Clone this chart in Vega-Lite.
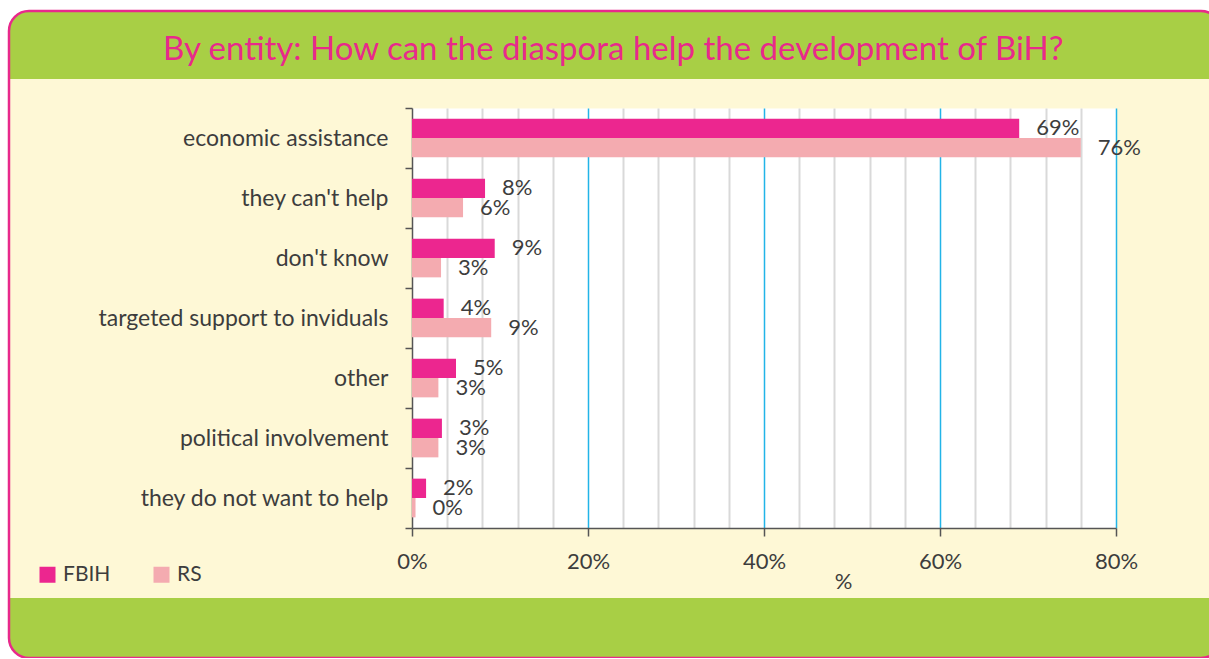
{
  "$schema": "https://vega.github.io/schema/vega-lite/v6.json",
  "width": 1212,
  "height": 647,
  "padding": {"left": 9, "top": 0, "right": 0, "bottom": 0},
  "background": "white",
  "view": {
    "fill": {"gradient": "linear", "x1": 0, "y1": 0, "x2": 0, "y2": 1, "stops": [
      {"offset": 0, "color": "#a8cf45"},
      {"offset": 0.105, "color": "#a8cf45"},
      {"offset": 0.105, "color": "#fef8d6"},
      {"offset": 0.907, "color": "#fef8d6"},
      {"offset": 0.907, "color": "#a8cf45"},
      {"offset": 1, "color": "#a8cf45"}
    ]},
    "stroke": "#e8298b",
    "strokeWidth": 2.5,
    "cornerRadius": 20
  },
  "title": {
    "text": "By entity: How can the diaspora help the development of BiH?",
    "color": "#e8298b",
    "font": "Lato",
    "fontSize": 33,
    "fontWeight": "normal",
    "anchor": "start",
    "frame": "group",
    "offset": -67,
    "dx": 154
  },
  "data": {"values": [
    {"cat": "economic assistance", "grp": "FBIH", "val": 0.69},
    {"cat": "economic assistance", "grp": "RS", "val": 0.76},
    {"cat": "they can't help", "grp": "FBIH", "val": 0.083},
    {"cat": "they can't help", "grp": "RS", "val": 0.058},
    {"cat": "don't know", "grp": "FBIH", "val": 0.094},
    {"cat": "don't know", "grp": "RS", "val": 0.033},
    {"cat": "targeted support to inviduals", "grp": "FBIH", "val": 0.036},
    {"cat": "targeted support to inviduals", "grp": "RS", "val": 0.09},
    {"cat": "other", "grp": "FBIH", "val": 0.05},
    {"cat": "other", "grp": "RS", "val": 0.03},
    {"cat": "political involvement", "grp": "FBIH", "val": 0.034},
    {"cat": "political involvement", "grp": "RS", "val": 0.03},
    {"cat": "they do not want to help", "grp": "FBIH", "val": 0.016},
    {"cat": "they do not want to help", "grp": "RS", "val": 0.004}
  ]},
  "encoding": {
    "y": {
      "field": "cat", "type": "nominal",
      "scale": {
        "domain": ["economic assistance", "they can't help", "don't know", "targeted support to inviduals", "other", "political involvement", "they do not want to help"],
        "range": [97, 517], "paddingInner": 0, "paddingOuter": 0
      },
      "axis": {
        "title": null, "orient": "left", "offset": -403, "tickBand": "extent",
        "domainColor": "#555555", "domainWidth": 1.5, "tickColor": "#555555", "tickWidth": 1.5, "tickSize": 7,
        "labelPadding": 17, "labelFont": "Lato", "labelFontSize": 23, "labelColor": "#3d3d3d", "grid": false, "labelLimit": 400
      }
    },
    "yOffset": {"field": "grp", "type": "nominal", "scale": {"domain": ["FBIH", "RS"], "paddingOuter": 0.55, "paddingInner": 0}}
  },
  "resolve": {"axis": {"x": "independent"}},
  "layer": [
    {
      "mark": {"type": "bar"},
      "encoding": {
        "x": {
          "field": "val", "type": "quantitative",
          "scale": {"domain": [0, 0.8], "range": [403, 1107], "nice": false, "zero": true},
          "axis": {"orient": "top", "title": null, "values": [0.4], "labels": false, "ticks": false, "domain": false, "grid": true, "gridColor": "white", "gridWidth": 704, "gridOpacity": 1, "minExtent": 0, "maxExtent": 0}
        },
        "color": {
          "field": "grp", "type": "nominal",
          "scale": {"domain": ["FBIH", "RS"], "range": ["#ec268f", "#f4abb0"]},
          "legend": {
            "title": null, "orient": "none", "legendX": 28, "legendY": 553, "direction": "horizontal",
            "symbolType": "square", "symbolSize": 256, "symbolStrokeWidth": 0, "labelFont": "Lato", "labelFontSize": 21,
            "labelColor": "#3d3d3d", "labelOffset": 5, "columnPadding": 40, "padding": 0
          }
        }
      }
    },
    {
      "transform": [{"filter": "datum.grp == 'FBIH'"}],
      "mark": {"type": "text", "align": "left", "baseline": "middle", "dx": 17, "font": "Lato", "fontSize": 22, "color": "#3d3d3d"},
      "encoding": {
        "x": {
          "field": "val", "type": "quantitative",
          "axis": {
            "orient": "top", "title": null, "labels": false, "ticks": false, "domain": false, "grid": true, "minExtent": 0, "maxExtent": 0,
            "values": [0.04, 0.08, 0.12, 0.16, 0.2, 0.24, 0.28, 0.32, 0.36, 0.4, 0.44, 0.48, 0.52, 0.56, 0.6, 0.64, 0.68, 0.72, 0.76, 0.8],
            "gridColor": {"condition": {"test": "datum.value == 0.2 || datum.value == 0.4 || datum.value == 0.6 || datum.value == 0.8", "value": "#22b4e8"}, "value": "#d9d9d9"},
            "gridWidth": {"condition": {"test": "datum.value == 0.2 || datum.value == 0.4 || datum.value == 0.6 || datum.value == 0.8", "value": 1.5}, "value": 2},
            "gridOpacity": 1
          }
        },
        "text": {"field": "val", "type": "quantitative", "format": ".0%"}
      }
    },
    {
      "transform": [{"filter": "datum.grp == 'RS'"}],
      "mark": {"type": "text", "align": "left", "baseline": "middle", "dx": 17, "font": "Lato", "fontSize": 22, "color": "#3d3d3d"},
      "encoding": {
        "x": {
          "field": "val", "type": "quantitative",
          "axis": {
            "orient": "bottom", "offset": -130, "grid": false, "values": [0, 0.2, 0.4, 0.6, 0.8], "format": ".0%",
            "labelFlush": false, "labelOverlap": false,
            "domainColor": "#555555", "domainWidth": 1.5, "tickColor": "#555555", "tickWidth": 1.5, "tickSize": 8,
            "labelPadding": 15, "labelFont": "Lato", "labelFontSize": 22, "labelColor": "#3d3d3d",
            "title": "%", "titleFont": "Lato", "titleFontSize": 22, "titleFontWeight": "normal", "titleColor": "#3d3d3d",
            "titleX": 834, "titleY": 53, "titleBaseline": "middle", "titleAlign": "center"
          }
        },
        "text": {"field": "val", "type": "quantitative", "format": ".0%"}
      }
    }
  ]
}
